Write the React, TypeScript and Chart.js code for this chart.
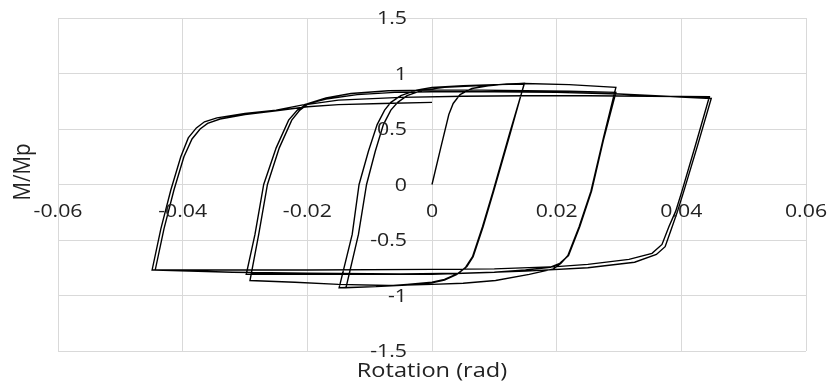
import React, { useEffect, useRef } from "react";
import { Chart, registerables } from "chart.js";

Chart.register(...registerables);

// Axis ticks
const X_TICKS = [-0.06, -0.04, -0.02, 0, 0.02, 0.04, 0.06];
const Y_TICKS = [-1.5, -1, -0.5, 0, 0.5, 1, 1.5];
const X_TITLE = "Rotation (rad)";
const Y_TITLE = "M/Mp";

// Hysteresis branches [rotation, M/Mp]
const C1_LOAD = [[0, 0], [0.0014, 0.33], [0.0027, 0.63], [0.0034, 0.73], [0.0045, 0.81], [0.0064, 0.865], [0.009, 0.89], [0.012, 0.905], [0.0148, 0.91]];
const C1_DOWN = [[0.0125, 0.45], [0.0099, -0.06], [0.0082, -0.38], [0.0066, -0.65], [0.0056, -0.74], [0.0042, -0.8], [0.002, -0.855], [0, -0.88], [-0.004, -0.9], [-0.009, -0.92], [-0.0149, -0.93]];
const C1_UP = [[-0.0128, -0.45], [-0.0117, 0], [-0.0102, 0.3], [-0.0088, 0.54], [-0.0076, 0.67], [-0.0066, 0.74], [-0.005, 0.8], [-0.0025, 0.85], [0, 0.875], [0.005, 0.89], [0.01, 0.9], [0.0148, 0.905]];
const C2_DOWN = [[0.0124, 0.45], [0.0098, -0.06], [0.0081, -0.38], [0.0065, -0.65], [0.0054, -0.745], [0.004, -0.81], [0.002, -0.86], [0, -0.885], [-0.004, -0.905], [-0.009, -0.92], [-0.0138, -0.93]];
const C2_UP = [[-0.0118, -0.45], [-0.0105, 0], [-0.0091, 0.3], [-0.0078, 0.54], [-0.0066, 0.67], [-0.0055, 0.74], [-0.004, 0.8], [-0.0015, 0.85], [0.002, 0.875], [0.007, 0.89], [0.0148, 0.91], [0.022, 0.9], [0.0295, 0.875]];
const C3_DOWN = [[0.0275, 0.42], [0.0255, -0.06], [0.0236, -0.38], [0.0218, -0.64], [0.0207, -0.71], [0.0195, -0.76], [0.0156, -0.81], [0.0102, -0.865], [0.005, -0.89], [0, -0.9], [-0.007, -0.91], [-0.015, -0.9], [-0.022, -0.88], [-0.0292, -0.865]];
const C3_UP = [[-0.0278, -0.45], [-0.0264, 0], [-0.0245, 0.33], [-0.0225, 0.58], [-0.0212, 0.67], [-0.0198, 0.73], [-0.017, 0.78], [-0.013, 0.82], [-0.007, 0.845], [0, 0.85], [0.008, 0.85], [0.015, 0.845], [0.022, 0.84], [0.0295, 0.83]];
const C4_DOWN = [[0.0275, 0.4], [0.0256, -0.06], [0.0237, -0.38], [0.0219, -0.64], [0.0205, -0.71], [0.019, -0.745], [0.015, -0.77], [0.01, -0.79], [0.005, -0.8], [0, -0.81], [-0.01, -0.81], [-0.02, -0.81], [-0.0298, -0.81]];
const C4_UP = [[-0.0284, -0.45], [-0.027, 0], [-0.025, 0.33], [-0.023, 0.58], [-0.0216, 0.67], [-0.0202, 0.72], [-0.015, 0.76], [-0.005, 0.785], [0.005, 0.795], [0.015, 0.8], [0.025, 0.8], [0.035, 0.795], [0.0445, 0.79]];
const C5_DOWN = [[0.0423, 0.36], [0.0401, -0.06], [0.0391, -0.24], [0.038, -0.38], [0.0369, -0.54], [0.0353, -0.62], [0.0316, -0.675], [0.025, -0.72], [0.02, -0.74], [0.01, -0.76], [0, -0.765], [-0.02, -0.77], [-0.035, -0.77], [-0.0449, -0.77]];
const C5_UP = [[-0.0435, -0.4], [-0.0419, -0.05], [-0.0403, 0.25], [-0.0391, 0.42], [-0.0378, 0.51], [-0.0365, 0.565], [-0.0345, 0.6], [-0.03, 0.64], [-0.025, 0.67], [-0.0205, 0.72], [-0.017, 0.77], [-0.012, 0.81], [-0.006, 0.83], [0, 0.835], [0.01, 0.835], [0.02, 0.83], [0.03, 0.815], [0.0448, 0.775]];
const C6_DOWN = [[0.0426, 0.35], [0.0404, -0.06], [0.0394, -0.24], [0.0384, -0.4], [0.0374, -0.56], [0.036, -0.63], [0.0325, -0.7], [0.025, -0.75], [0.015, -0.78], [0.005, -0.8], [-0.005, -0.805], [-0.02, -0.8], [-0.032, -0.79], [-0.0444, -0.77]];
const C6_UP = [[-0.043, -0.4], [-0.0414, -0.05], [-0.0398, 0.25], [-0.0385, 0.41], [-0.0372, 0.5], [-0.036, 0.55], [-0.034, 0.59], [-0.03, 0.63], [-0.025, 0.665], [-0.02, 0.7], [-0.015, 0.72], [-0.008, 0.73], [0, 0.74]];

const BRANCHES = [C1_LOAD, C1_DOWN, C1_UP, C2_DOWN, C2_UP, C3_DOWN, C3_UP, C4_DOWN, C4_UP, C5_DOWN, C5_UP, C6_DOWN, C6_UP];

const FONT = "'Open Sans', sans-serif";
const TEXT_COLOR = "#222222";
const SX = 1.15;

const labelPlugin = {
  id: "centerLabels",
  afterDatasetsDraw(chart: any) {
    const { ctx, scales } = chart;
    const xs = scales.x;
    const ys = scales.y;
    const x0 = xs.getPixelForValue(0);
    const y0 = ys.getPixelForValue(0);
    ctx.save();
    ctx.fillStyle = TEXT_COLOR;
    ctx.font = `18.5px ${FONT}`;
    ctx.textBaseline = "middle";
    // y tick labels to the left of x=0 line
    ctx.textAlign = "right";
    Y_TICKS.forEach((v) => {
      ctx.save();
      ctx.translate(x0 - 25, ys.getPixelForValue(v) + 1);
      ctx.scale(SX, 1);
      ctx.fillText(String(v), 0, 0);
      ctx.restore();
    });
    // x tick labels below y=0 line
    ctx.textAlign = "center";
    X_TICKS.forEach((v) => {
      ctx.save();
      ctx.translate(xs.getPixelForValue(v), y0 + 27);
      ctx.scale(SX, 1);
      ctx.fillText(String(v), 0, 0);
      ctx.restore();
    });
    // titles
    ctx.font = `20.5px ${FONT}`;
    ctx.save();
    ctx.translate((xs.left + xs.right) / 2, 371);
    ctx.scale(SX, 1);
    ctx.fillText(X_TITLE, 0, 0);
    ctx.restore();
    ctx.save();
    ctx.translate(23, 172);
    ctx.scale(SX, 1);
    ctx.rotate(-Math.PI / 2);
    ctx.fillText(Y_TITLE, 0, 0);
    ctx.restore();
    ctx.restore();
  },
};

export default function App() {
  const ref = useRef<HTMLCanvasElement | null>(null);
  useEffect(() => {
    if (!ref.current) return;
    const points = BRANCHES.flat().map(([x, y]) => ({ x, y }));
    const chart = new Chart(ref.current, {
      type: "scatter",
      data: {
        datasets: [
          {
            data: points,
            showLine: true,
            borderColor: "#000",
            borderWidth: 1.4,
            pointRadius: 0,
            pointHoverRadius: 0,
            tension: 0,
            fill: false,
          },
        ],
      },
      options: {
        animation: false,
        responsive: false,
        events: [],
        layout: { padding: { left: 58, top: 18, right: 23, bottom: 34 } },
        plugins: { legend: { display: false }, tooltip: { enabled: false } },
        scales: {
          x: {
            type: "linear",
            min: -0.06,
            max: 0.06,
            afterBuildTicks: (s: any) => {
              s.ticks = X_TICKS.map((v) => ({ value: v }));
            },
            ticks: { display: false },
            grid: { color: "#d9d9d9", lineWidth: 1, drawTicks: false },
            border: { display: false },
          },
          y: {
            type: "linear",
            min: -1.5,
            max: 1.5,
            afterBuildTicks: (s: any) => {
              s.ticks = Y_TICKS.map((v) => ({ value: v }));
            },
            ticks: { display: false },
            grid: { color: "#d9d9d9", lineWidth: 1, drawTicks: false },
            border: { display: false },
          },
        },
      },
      plugins: [labelPlugin],
    });
    return () => chart.destroy();
  }, []);
  return (
    <div style={{ position: "absolute", left: 0, top: 0, width: 829, height: 385, background: "#fff" }}>
      <canvas ref={ref} width={829} height={385} />
    </div>
  );
}
